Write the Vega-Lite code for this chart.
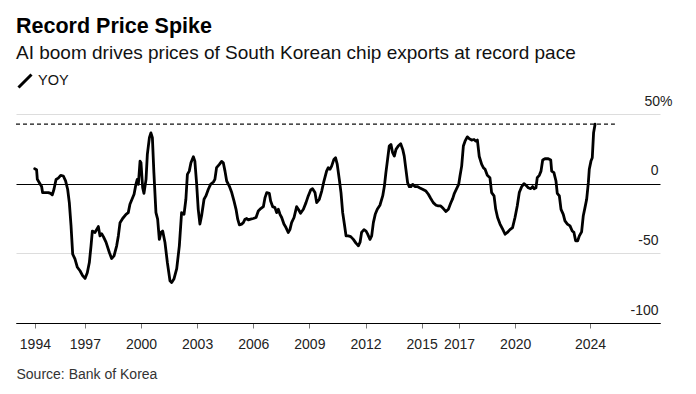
{
  "$schema": "https://vega.github.io/schema/vega-lite/v6.json",
  "width": 644,
  "height": 209,
  "autosize": {"type": "none"},
  "padding": {"left": 16, "top": 114, "right": 36, "bottom": 71},
  "background": "#ffffff",
  "config": {
    "font": "Liberation Sans",
    "view": {"stroke": null},
    "title": {"font": "Liberation Sans", "subtitleFont": "Liberation Sans"}
  },
  "title": {
    "text": "Record Price Spike",
    "subtitle": "AI boom drives prices of South Korean chip exports at record pace",
    "anchor": "start",
    "frame": "group",
    "fontSize": 21.5,
    "fontWeight": "bold",
    "color": "#000000",
    "subtitleFontSize": 19,
    "subtitleColor": "#111111",
    "subtitlePadding": 7,
    "offset": 10
  },
  "layer": [
    {
      "data": {"values": [{"start": 1993.32, "end": 2025.33, "level": 42.7}]},
      "mark": {"type": "rule", "strokeDash": [4, 3], "strokeWidth": 1.4, "color": "#111111"},
      "encoding": {
        "x": {"field": "start", "type": "quantitative"},
        "x2": {"field": "end"},
        "y": {"field": "level", "type": "quantitative"}
      }
    },
    {
      "data": {"values": [
        {"year": 1994.32, "yoy": 10.7}, {"year": 1994.42, "yoy": 10.0}, {"year": 1994.46, "yoy": 3.1}, {"year": 1994.60, "yoy": 0},
        {"year": 1994.69, "yoy": -2}, {"year": 1994.74, "yoy": -6.4}, {"year": 1995.05, "yoy": -6.4}, {"year": 1995.17, "yoy": -7},
        {"year": 1995.26, "yoy": -8}, {"year": 1995.35, "yoy": -4}, {"year": 1995.46, "yoy": 3}, {"year": 1995.58, "yoy": 4},
        {"year": 1995.71, "yoy": 6}, {"year": 1995.85, "yoy": 5.5}, {"year": 1995.97, "yoy": 2}, {"year": 1996.08, "yoy": -4},
        {"year": 1996.17, "yoy": -13.6}, {"year": 1996.26, "yoy": -30}, {"year": 1996.35, "yoy": -50.6}, {"year": 1996.47, "yoy": -54},
        {"year": 1996.60, "yoy": -60}, {"year": 1996.74, "yoy": -62.5}, {"year": 1996.88, "yoy": -66}, {"year": 1997.01, "yoy": -68},
        {"year": 1997.13, "yoy": -64}, {"year": 1997.24, "yoy": -56.6}, {"year": 1997.33, "yoy": -44.6}, {"year": 1997.40, "yoy": -34},
        {"year": 1997.54, "yoy": -35}, {"year": 1997.72, "yoy": -30.8}, {"year": 1997.81, "yoy": -37.5}, {"year": 1997.90, "yoy": -36},
        {"year": 1997.99, "yoy": -38}, {"year": 1998.13, "yoy": -42}, {"year": 1998.31, "yoy": -49.4}, {"year": 1998.43, "yoy": -53.7},
        {"year": 1998.56, "yoy": -51.8}, {"year": 1998.70, "yoy": -44.6}, {"year": 1998.79, "yoy": -37.5}, {"year": 1998.88, "yoy": -28},
        {"year": 1999.02, "yoy": -25}, {"year": 1999.20, "yoy": -22}, {"year": 1999.32, "yoy": -20.8}, {"year": 1999.41, "yoy": -14.8},
        {"year": 1999.52, "yoy": -11.2}, {"year": 1999.63, "yoy": -7.6}, {"year": 1999.73, "yoy": -0.5}, {"year": 1999.80, "yoy": 3},
        {"year": 1999.86, "yoy": -0.5}, {"year": 1999.95, "yoy": 16.2}, {"year": 2000.00, "yoy": 15}, {"year": 2000.09, "yoy": -2.9},
        {"year": 2000.16, "yoy": -7}, {"year": 2000.27, "yoy": 3.1}, {"year": 2000.34, "yoy": 21}, {"year": 2000.45, "yoy": 33},
        {"year": 2000.53, "yoy": 36.5}, {"year": 2000.61, "yoy": 33}, {"year": 2000.69, "yoy": 7.9}, {"year": 2000.80, "yoy": -20.8},
        {"year": 2000.89, "yoy": -25.5}, {"year": 2000.98, "yoy": -40}, {"year": 2001.07, "yoy": -35}, {"year": 2001.16, "yoy": -34},
        {"year": 2001.28, "yoy": -42}, {"year": 2001.41, "yoy": -56.6}, {"year": 2001.55, "yoy": -69.7}, {"year": 2001.64, "yoy": -71},
        {"year": 2001.76, "yoy": -68.5}, {"year": 2001.91, "yoy": -61}, {"year": 2002.05, "yoy": -44.6}, {"year": 2002.17, "yoy": -20.8},
        {"year": 2002.30, "yoy": -22}, {"year": 2002.40, "yoy": -11.2}, {"year": 2002.48, "yoy": 6.7}, {"year": 2002.58, "yoy": 9},
        {"year": 2002.67, "yoy": 15}, {"year": 2002.80, "yoy": 19.3}, {"year": 2002.88, "yoy": 16.2}, {"year": 2002.97, "yoy": 0.7},
        {"year": 2003.06, "yoy": -18.4}, {"year": 2003.15, "yoy": -29}, {"year": 2003.24, "yoy": -23}, {"year": 2003.37, "yoy": -11.2},
        {"year": 2003.47, "yoy": -8.8}, {"year": 2003.60, "yoy": -4}, {"year": 2003.72, "yoy": -0.5}, {"year": 2003.87, "yoy": 1.2},
        {"year": 2003.95, "yoy": 3.1}, {"year": 2004.04, "yoy": 11.5}, {"year": 2004.19, "yoy": 13.8}, {"year": 2004.31, "yoy": 16},
        {"year": 2004.40, "yoy": 15}, {"year": 2004.49, "yoy": 9}, {"year": 2004.58, "yoy": 1.9}, {"year": 2004.72, "yoy": -1.7},
        {"year": 2004.85, "yoy": -6.4}, {"year": 2004.97, "yoy": -12.4}, {"year": 2005.08, "yoy": -18.4}, {"year": 2005.17, "yoy": -25.5},
        {"year": 2005.26, "yoy": -29.6}, {"year": 2005.38, "yoy": -29}, {"year": 2005.47, "yoy": -28}, {"year": 2005.56, "yoy": -25.5},
        {"year": 2005.65, "yoy": -25}, {"year": 2005.74, "yoy": -26}, {"year": 2005.86, "yoy": -25.5}, {"year": 2006.00, "yoy": -25},
        {"year": 2006.15, "yoy": -24.3}, {"year": 2006.27, "yoy": -19.6}, {"year": 2006.40, "yoy": -17.9}, {"year": 2006.54, "yoy": -16.5},
        {"year": 2006.63, "yoy": -10}, {"year": 2006.72, "yoy": -6.4}, {"year": 2006.86, "yoy": -7}, {"year": 2006.93, "yoy": -12.4},
        {"year": 2007.04, "yoy": -16.5}, {"year": 2007.16, "yoy": -17.2}, {"year": 2007.25, "yoy": -20.8}, {"year": 2007.34, "yoy": -18.4},
        {"year": 2007.43, "yoy": -22}, {"year": 2007.52, "yoy": -24.3}, {"year": 2007.64, "yoy": -29}, {"year": 2007.75, "yoy": -31.5},
        {"year": 2007.87, "yoy": -35}, {"year": 2007.96, "yoy": -33}, {"year": 2008.05, "yoy": -28}, {"year": 2008.18, "yoy": -24.3},
        {"year": 2008.32, "yoy": -16.5}, {"year": 2008.41, "yoy": -18.4}, {"year": 2008.53, "yoy": -21.2}, {"year": 2008.68, "yoy": -18.4},
        {"year": 2008.82, "yoy": -13.6}, {"year": 2008.94, "yoy": -8.8}, {"year": 2009.07, "yoy": -4.5}, {"year": 2009.17, "yoy": -3.6},
        {"year": 2009.30, "yoy": -6.4}, {"year": 2009.39, "yoy": -13.6}, {"year": 2009.53, "yoy": -11.2}, {"year": 2009.66, "yoy": -5.3},
        {"year": 2009.78, "yoy": 1.9}, {"year": 2009.92, "yoy": 9}, {"year": 2010.01, "yoy": 11.5}, {"year": 2010.10, "yoy": 10.3},
        {"year": 2010.19, "yoy": 12.6}, {"year": 2010.31, "yoy": 17.4}, {"year": 2010.40, "yoy": 18.6}, {"year": 2010.49, "yoy": 13.8},
        {"year": 2010.60, "yoy": 3.1}, {"year": 2010.69, "yoy": -6.4}, {"year": 2010.78, "yoy": -20.8}, {"year": 2010.87, "yoy": -29},
        {"year": 2010.96, "yoy": -37.5}, {"year": 2011.08, "yoy": -37.5}, {"year": 2011.21, "yoy": -38}, {"year": 2011.35, "yoy": -40},
        {"year": 2011.49, "yoy": -42.7}, {"year": 2011.62, "yoy": -44.6}, {"year": 2011.71, "yoy": -42}, {"year": 2011.79, "yoy": -35},
        {"year": 2011.92, "yoy": -33}, {"year": 2012.03, "yoy": -34}, {"year": 2012.11, "yoy": -36}, {"year": 2012.24, "yoy": -40},
        {"year": 2012.33, "yoy": -37.5}, {"year": 2012.42, "yoy": -28}, {"year": 2012.52, "yoy": -22}, {"year": 2012.63, "yoy": -18.4},
        {"year": 2012.77, "yoy": -15.5}, {"year": 2012.92, "yoy": -8.8}, {"year": 2013.01, "yoy": -1.7}, {"year": 2013.09, "yoy": 7.9},
        {"year": 2013.18, "yoy": 17.4}, {"year": 2013.27, "yoy": 27}, {"year": 2013.36, "yoy": 28.2}, {"year": 2013.45, "yoy": 22.2},
        {"year": 2013.54, "yoy": 19.8}, {"year": 2013.63, "yoy": 24.6}, {"year": 2013.75, "yoy": 27}, {"year": 2013.88, "yoy": 28.6},
        {"year": 2013.99, "yoy": 24.6}, {"year": 2014.07, "yoy": 19.8}, {"year": 2014.16, "yoy": 10.3}, {"year": 2014.25, "yoy": 0.7},
        {"year": 2014.34, "yoy": -2.1}, {"year": 2014.43, "yoy": -2.1}, {"year": 2014.52, "yoy": -0.5}, {"year": 2014.64, "yoy": -2.1},
        {"year": 2014.77, "yoy": -2.1}, {"year": 2014.91, "yoy": -3.1}, {"year": 2015.05, "yoy": -4}, {"year": 2015.23, "yoy": -5.3},
        {"year": 2015.36, "yoy": -7.6}, {"year": 2015.48, "yoy": -10.5}, {"year": 2015.62, "yoy": -13.6}, {"year": 2015.77, "yoy": -15.5},
        {"year": 2015.89, "yoy": -16}, {"year": 2016.02, "yoy": -16}, {"year": 2016.16, "yoy": -17.9}, {"year": 2016.30, "yoy": -20},
        {"year": 2016.43, "yoy": -18.4}, {"year": 2016.55, "yoy": -14.1}, {"year": 2016.66, "yoy": -10.7}, {"year": 2016.75, "yoy": -6.9},
        {"year": 2016.87, "yoy": -3.6}, {"year": 2016.98, "yoy": -0.5}, {"year": 2017.05, "yoy": 5.5}, {"year": 2017.14, "yoy": 12.6},
        {"year": 2017.23, "yoy": 27}, {"year": 2017.32, "yoy": 30.5}, {"year": 2017.44, "yoy": 33.6}, {"year": 2017.55, "yoy": 32.2},
        {"year": 2017.67, "yoy": 31.3}, {"year": 2017.80, "yoy": 31.7}, {"year": 2017.90, "yoy": 30.5}, {"year": 2017.98, "yoy": 31.3},
        {"year": 2018.08, "yoy": 19.5}, {"year": 2018.21, "yoy": 13.8}, {"year": 2018.30, "yoy": 11.5}, {"year": 2018.39, "yoy": 10.3},
        {"year": 2018.51, "yoy": 6}, {"year": 2018.65, "yoy": 4.3}, {"year": 2018.74, "yoy": -6.4}, {"year": 2018.87, "yoy": -8.8},
        {"year": 2018.96, "yoy": -18.4}, {"year": 2019.06, "yoy": -24.3}, {"year": 2019.19, "yoy": -29}, {"year": 2019.33, "yoy": -32.7},
        {"year": 2019.46, "yoy": -36.3}, {"year": 2019.58, "yoy": -35}, {"year": 2019.72, "yoy": -33}, {"year": 2019.86, "yoy": -31.5},
        {"year": 2019.99, "yoy": -24.3}, {"year": 2020.11, "yoy": -16}, {"year": 2020.22, "yoy": -6.4}, {"year": 2020.35, "yoy": -2.1},
        {"year": 2020.47, "yoy": 0}, {"year": 2020.58, "yoy": -1.2}, {"year": 2020.70, "yoy": -2.9}, {"year": 2020.83, "yoy": -3.6},
        {"year": 2020.93, "yoy": -2.1}, {"year": 2021.01, "yoy": -3.6}, {"year": 2021.11, "yoy": -2.9}, {"year": 2021.18, "yoy": 4.3},
        {"year": 2021.29, "yoy": 6}, {"year": 2021.38, "yoy": 9}, {"year": 2021.47, "yoy": 17}, {"year": 2021.59, "yoy": 17.9},
        {"year": 2021.77, "yoy": 17.9}, {"year": 2021.90, "yoy": 17}, {"year": 2021.95, "yoy": 9}, {"year": 2022.07, "yoy": 7.9},
        {"year": 2022.18, "yoy": 1.9}, {"year": 2022.25, "yoy": -6.9}, {"year": 2022.36, "yoy": -8.8}, {"year": 2022.45, "yoy": -18.4},
        {"year": 2022.57, "yoy": -22}, {"year": 2022.66, "yoy": -26.7}, {"year": 2022.79, "yoy": -29}, {"year": 2022.93, "yoy": -30.3},
        {"year": 2023.05, "yoy": -34}, {"year": 2023.14, "yoy": -35}, {"year": 2023.23, "yoy": -41}, {"year": 2023.34, "yoy": -41},
        {"year": 2023.43, "yoy": -37.5}, {"year": 2023.55, "yoy": -34.6}, {"year": 2023.64, "yoy": -23}, {"year": 2023.73, "yoy": -17.2},
        {"year": 2023.82, "yoy": -11.2}, {"year": 2023.91, "yoy": 0.7}, {"year": 2023.96, "yoy": 10.3}, {"year": 2024.05, "yoy": 16.2},
        {"year": 2024.12, "yoy": 18.6}, {"year": 2024.19, "yoy": 36.5}, {"year": 2024.27, "yoy": 42.7}
      ]},
      "mark": {"type": "line", "strokeWidth": 2.8, "strokeJoin": "round", "strokeCap": "round"},
      "encoding": {
        "x": {
          "field": "year",
          "type": "quantitative",
          "scale": {"domain": [1993.32, 2027.74], "nice": false, "zero": false},
          "axis": {
            "values": [1994.33, 1997, 2000, 2003, 2006, 2009, 2012, 2015, 2017, 2020, 2024],
            "format": "d",
            "labelFlush": false,
            "labelOverlap": false,
            "grid": false,
            "ticks": true,
            "tickSize": 5,
            "tickColor": "#777777",
            "domain": true,
            "domainColor": "#000000",
            "domainWidth": 1,
            "labelBaseline": "alphabetic",
            "labelPadding": 20,
            "labelFontSize": 14,
            "labelColor": "#222222",
            "title": "Source: Bank of Korea",
            "titleAnchor": "start",
            "titleAlign": "left",
            "titleFontWeight": "normal",
            "titleFontSize": 14,
            "titleColor": "#333333",
            "titlePadding": 16
          }
        },
        "y": {
          "field": "yoy",
          "type": "quantitative",
          "scale": {"domain": [-100, 50], "nice": false},
          "axis": {
            "orient": "right",
            "values": [-100, -50, 0, 50],
            "labelExpr": "datum.value == 50 ? '50%' : '' + datum.value",
            "ticks": false,
            "domain": false,
            "grid": true,
            "gridColor": {"condition": {"test": "datum.value == 0 || datum.value == -100", "value": "#000000"}, "value": "#dddddd"},
            "gridWidth": 1,
            "labelAlign": "right",
            "labelBaseline": "alphabetic",
            "labelOffset": -9,
            "labelPadding": {"condition": {"test": "datum.value == 50", "value": 12}, "value": -2},
            "labelFlush": false,
            "labelOverlap": false,
            "labelFontSize": 14,
            "labelColor": "#222222",
            "title": null
          }
        },
        "color": {
          "datum": "YOY",
          "scale": {"range": ["#000000"]},
          "legend": {
            "orient": "none",
            "legendX": 1,
            "legendY": -41,
            "title": null,
            "symbolType": "M-1,1L1,-1",
            "symbolSize": 169,
            "symbolStrokeWidth": 3,
            "symbolStrokeColor": "#000000",
            "labelFontSize": 14.5,
            "labelColor": "#111111",
            "labelOffset": 5,
            "padding": 0
          }
        }
      }
    }
  ]
}
